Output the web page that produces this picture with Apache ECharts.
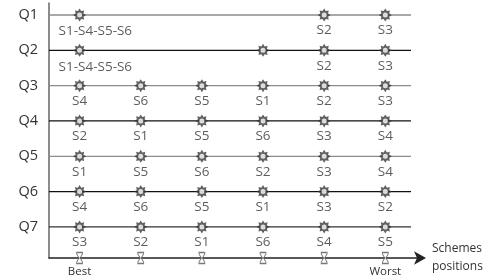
<!DOCTYPE html>
<html>
<head>
<meta charset="utf-8">
<script src="https://cdn.jsdelivr.net/npm/echarts@6/dist/echarts.min.js"></script>
<style>html,body{margin:0;padding:0;background:#fff;}#c{width:489px;height:280px;}</style>
</head>
<body>
<div id="c"></div>
<script>
// Row (question) labels, top to bottom
var questions = ['Q1', 'Q2', 'Q3', 'Q4', 'Q5', 'Q6', 'Q7'];
// Scheme positions 1..6 (Best -> Worst)
var positions = [1, 2, 3, 4, 5, 6];
var positionLabels = ['Best', '', '', '', '', 'Worst'];
// Scheme at each position per question; null = no marker, '' = marker without label
var q1 = ['S1-S4-S5-S6', null, null, null, 'S2', 'S3'];
var q2 = ['S1-S4-S5-S6', null, null, '', 'S2', 'S3'];
var q3 = ['S4', 'S6', 'S5', 'S1', 'S2', 'S3'];
var q4 = ['S2', 'S1', 'S5', 'S6', 'S3', 'S4'];
var q5 = ['S1', 'S5', 'S6', 'S2', 'S3', 'S4'];
var q6 = ['S4', 'S6', 'S5', 'S1', 'S3', 'S2'];
var q7 = ['S3', 'S2', 'S1', 'S6', 'S4', 'S5'];
var rows = [q1, q2, q3, q4, q5, q6, q7];
var axisTitle = ['Schemes', 'positions'];

var FONT = '"Open Sans", Lato, sans-serif';
var nRows = questions.length;
function rowY(i) { return nRows - i; }

var lineColors = ['#8c8c8c', '#111111', '#8c8c8c', '#111111', '#8c8c8c', '#111111', '#333333'];
var STAR = 'path://M10,0 L12.49,3.99 L17.07,2.93 L16.01,7.51 L20,10 L16.01,12.49 L17.07,17.07 L12.49,16.01 L10,20 L7.51,16.01 L2.93,17.07 L3.99,12.49 L0,10 L3.99,7.51 L2.93,2.93 L7.51,3.99 Z';
var HOUR = 'path://M0,0 L10,0 L10,2 L6,9 L10,16 L10,18 L0,18 L0,16 L4,9 L0,2 Z';

var series = [];
rows.forEach(function (r, i) {
  series.push({
    type: 'line', data: [[0.5, rowY(i)], [6.42, rowY(i)]],
    symbol: 'none', silent: true, z: 1,
    lineStyle: { color: lineColors[i], width: 1.3 }
  });
});

var pts = [];
var multi = [];
rows.forEach(function (r, i) {
  r.forEach(function (lab, p) {
    if (lab === null) return;
    var item = { value: [positions[p], rowY(i)], name: lab };
    if (lab.length > 3) multi.push(item); else pts.push(item);
  });
});

series.push({
  type: 'scatter', data: pts, symbol: STAR, symbolSize: 13, z: 3,
  itemStyle: { color: '#3a3a3a' },
  label: { show: true, position: 'bottom', distance: 2, formatter: function (p) { return p.name; },
           color: '#333', fontFamily: FONT, fontSize: 13.5 }
});
series.push({
  type: 'scatter', data: multi, symbol: STAR, symbolSize: 13, z: 3,
  itemStyle: { color: '#3a3a3a' },
  label: { show: true, position: 'bottom', distance: 3, align: 'left', offset: [-21, 0],
           formatter: function (p) { return p.name; },
           color: '#333', fontFamily: FONT, fontSize: 13.5 }
});
series.push({
  type: 'scatter', data: pts.concat(multi).map(function (d) { return d.value; }),
  symbol: 'circle', symbolSize: 5, z: 4, silent: true,
  itemStyle: { color: '#fff' }
});
series.push({
  type: 'scatter', data: positions.map(function (p) { return [p, 0.12]; }),
  symbol: HOUR, symbolSize: [6, 11], z: 5, clip: false,
  itemStyle: { color: '#fff', borderColor: '#555', borderWidth: 1 }
});

var chart = echarts.init(document.getElementById('c'), null, { renderer: 'canvas' });
chart.setOption({
  animation: false,
  backgroundColor: '#fff',
  grid: { left: 49, right: 67, top: 3, bottom: 22, containLabel: false },
  xAxis: {
    type: 'value', min: 0.5, max: 6.6,
    splitLine: { show: false },
    axisLine: { show: true, lineStyle: { color: '#222', width: 1.5 }, symbol: ['none', 'arrow'], symbolSize: [10, 12], symbolOffset: [0, 4] },
    axisTick: { show: false },
    axisLabel: { show: true, customValues: [1, 6], margin: 8, color: '#333', fontFamily: FONT, fontSize: 11.5,
      formatter: function (v) { return positionLabels[Math.round(v) - 1] || ''; } }
  },
  yAxis: {
    type: 'value', min: 0.12, max: 7.34,
    splitLine: { show: false },
    axisLine: { show: true, lineStyle: { color: '#666', width: 1.5 } },
    axisTick: { show: false },
    axisLabel: { show: true, customValues: [1, 2, 3, 4, 5, 6, 7], margin: 11, color: '#333', fontFamily: FONT, fontSize: 14.5,
      formatter: function (v) { return questions[nRows - Math.round(v)] || ''; } }
  },
  graphic: [{
    type: 'text', left: 432, top: 240,
    style: { text: axisTitle.join('\n'), fill: '#333', font: '12px ' + FONT, lineHeight: 18 }
  }],
  series: series
});
</script>
</body>
</html>
